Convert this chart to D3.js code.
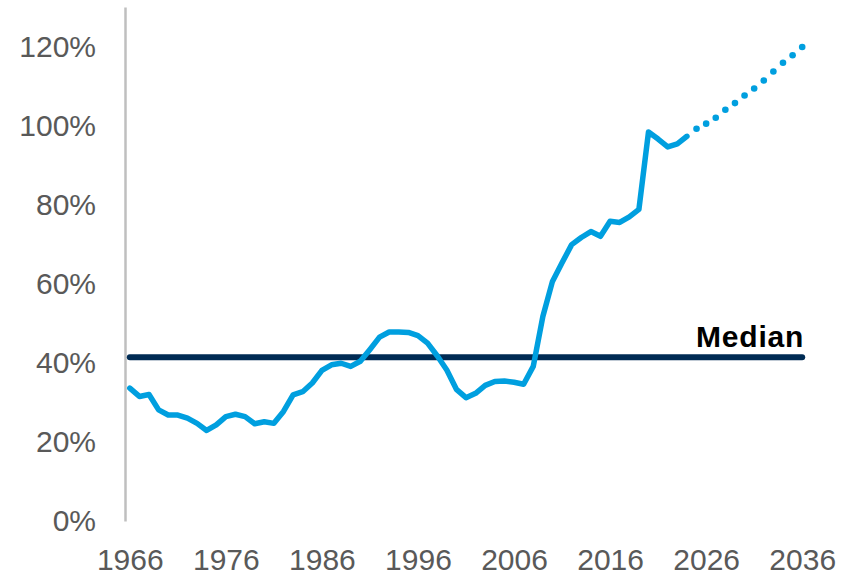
<!DOCTYPE html>
<html>
<head>
<meta charset="utf-8">
<script src="https://cdn.jsdelivr.net/npm/d3@7"></script>
<style>
  html, body { margin: 0; padding: 0; background: #ffffff; }
  svg { display: block; }
</style>
</head>
<body>
<svg id="chart" width="855" height="575"></svg>
<script>
// ---- Data ----
const years = d3.range(1966, 2037);
const histYears = d3.range(1966, 2025);
const histValues = [
  33.6, 31.5, 32.0, 28.1, 26.8, 26.8, 26.0, 24.7, 22.9, 24.3,
  26.4, 27.0, 26.4, 24.6, 25.1, 24.7, 27.7, 31.9, 32.7, 34.9,
  38.1, 39.5, 39.9, 39.1, 40.4, 43.4, 46.5, 47.8, 47.8, 47.7,
  46.9, 45.0, 41.8, 38.2, 33.3, 31.2, 32.3, 34.3, 35.3, 35.4,
  35.1, 34.6, 39.1, 51.7, 60.6, 65.3, 69.9, 71.7, 73.2, 72.0,
  75.8, 75.5, 76.9, 78.8, 98.4, 96.6, 94.6, 95.4, 97.3
];
const projYears = d3.range(2025, 2037);
const projValues = [99.2, 100.5, 102.0, 104.0, 105.7, 107.6, 109.4, 111.4, 113.7, 115.9, 117.8, 119.9];
const medianValue = 41.4;
const medianLabel = "Median";
const xTickLabels = [1966, 1976, 1986, 1996, 2006, 2016, 2026, 2036];
const yTickLabels = [0, 20, 40, 60, 80, 100, 120];

// ---- Scales ----
const svg = d3.select("#chart");
const x = d3.scalePoint().domain(years).range([125, 807]).padding(0.5);
const y = d3.scaleLinear().domain([0, 130]).range([521, 7]);

const blue = "#009FDF";
const navy = "#002B54";
const grey = "#595959";
const font = "'Liberation Sans', Arial, sans-serif";

// ---- Y axis ----
const yAxis = svg.append("g")
  .attr("transform", "translate(125,0)")
  .call(d3.axisLeft(y).tickValues(yTickLabels).tickSize(0).tickPadding(29)
    .tickFormat(d => d + "%"));
yAxis.select(".domain").attr("stroke", "#BFBFBF").attr("stroke-width", 2.5);
yAxis.selectAll("text").attr("font-family", font).attr("font-size", 30).attr("fill", grey);

// ---- X axis ----
const xAxis = svg.append("g")
  .attr("transform", "translate(0,521)")
  .call(d3.axisBottom(x).tickValues(xTickLabels).tickSize(0).tickPadding(28));
xAxis.select(".domain").remove();
xAxis.selectAll("text").attr("font-family", font).attr("font-size", 30).attr("fill", grey);

// ---- Median line ----
svg.append("path")
  .datum(years)
  .attr("fill", "none")
  .attr("stroke", navy)
  .attr("stroke-width", 6)
  .attr("stroke-linecap", "round")
  .attr("d", d3.line().x(d => x(d)).y(() => y(medianValue)));

svg.append("text")
  .attr("x", x(2036) + 2)
  .attr("y", y(medianValue) - 10)
  .attr("text-anchor", "end")
  .attr("font-family", font)
  .attr("font-weight", "bold")
  .attr("font-size", 30)
  .attr("letter-spacing", 0.8)
  .attr("fill", "#000")
  .text(medianLabel);

// ---- Historical line ----
const hist = histYears.map((yr, i) => ({ yr, v: histValues[i] }));
svg.append("path")
  .datum(hist)
  .attr("fill", "none")
  .attr("stroke", blue)
  .attr("stroke-width", 5.5)
  .attr("stroke-linecap", "round")
  .attr("stroke-linejoin", "round")
  .attr("d", d3.line().x(d => x(d.yr)).y(d => y(d.v)));

// ---- Projection (dotted) ----
const proj = projYears.map((yr, i) => ({ yr, v: projValues[i] }));
svg.append("g").selectAll("circle")
  .data(proj)
  .join("circle")
  .attr("cx", d => x(d.yr))
  .attr("cy", d => y(d.v))
  .attr("r", 3.3)
  .attr("fill", blue);
</script>
</body>
</html>
